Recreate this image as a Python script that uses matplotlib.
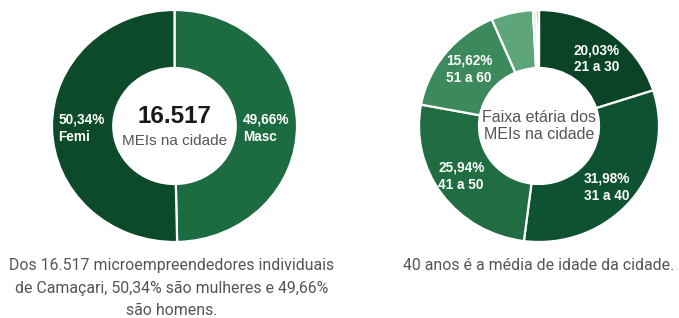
import matplotlib.pyplot as plt

# Dados
generos = ["Masc", "Femi"]
genero_pct = [49.66, 50.34]
genero_cores = ["#1d6b40", "#0c4a2a"]

faixas = ["21 a 30", "31 a 40", "41 a 50", "51 a 60", "61 a 70", "acima de 70", "até 20"]
faixa_pct = [20.03, 31.98, 25.94, 15.62, 5.63, 0.45, 0.35]
faixa_cores = ["#0a4326", "#0f5231", "#1f6d41", "#3c8a5b", "#5fa57a", "#cfe4d6", "#1b5c37"]
faixa_mostrar = [True, True, True, True, False, False, False]

total_meis = "16.517"
media_idade = 40

W, H = 679, 318
fig = plt.figure(figsize=(W / 100, H / 100), dpi=100)
plt.rcParams["font.family"] = ["Liberation Sans", "DejaVu Sans"]


def eixo_px(x0, y0, x1, y1):
    # caixa em pixels (origem no topo)
    return fig.add_axes([x0 / W, 1 - y1 / H, (x1 - x0) / W, (y1 - y0) / H])


def fmt(v):
    return f"{v:.2f}".replace(".", ",") + "%"


wp = dict(width=0.5, edgecolor="white", linewidth=1.6)

# Donut de gênero
ax1 = eixo_px(52, 10, 297, 242)
ax1.pie(genero_pct, colors=genero_cores, startangle=90, counterclock=False,
        radius=1, wedgeprops=wp)
ax1.set_aspect("auto")
ax1.set_xlim(-1, 1)
ax1.set_ylim(-1, 1)
pos_gen = {"Femi": (-0.95, -0.02), "Masc": (0.56, -0.02)}
for nome, v in zip(generos, genero_pct):
    x, y = pos_gen[nome]
    ax1.text(x, y, f"{fmt(v)}\n{nome}", color="white", fontsize=9.8,
             fontweight="bold", ha="left", va="center", linespacing=1.3)
ax1.text(0, 0.08, total_meis, fontsize=17.5, fontweight="bold", color="#1a1a1a",
         ha="center", va="center")
ax1.text(0, -0.13, "MEIs na cidade", fontsize=11, color="#555555",
         ha="center", va="center")

# Donut de faixa etária
ax2 = eixo_px(419, 10, 659, 242)
ax2.pie(faixa_pct, colors=faixa_cores, startangle=90, counterclock=False,
        radius=1, wedgeprops=wp)
ax2.set_aspect("auto")
ax2.set_xlim(-1, 1)
ax2.set_ylim(-1, 1)
pos_faixa = [(0.29, 0.58), (0.375, -0.53), (-0.84, -0.43), (-0.775, 0.49)]
k = 0
for nome, v, m in zip(faixas, faixa_pct, faixa_mostrar):
    if not m:
        continue
    x, y = pos_faixa[k]
    k += 1
    ax2.text(x, y, f"{fmt(v)}\n{nome}", color="white", fontsize=9.8,
             fontweight="bold", ha="left", va="center", linespacing=1.3)
ax2.text(0, 0, "Faixa etária dos\nMEIs na cidade", fontsize=11.5, color="#555555",
         ha="center", va="center", linespacing=1.2)

# Legendas abaixo
fig.text(172 / W, 1 - 258 / H,
         f"Dos {total_meis} microempreendedores individuais\n"
         f"de Camaçari, {fmt(genero_pct[1])} são mulheres e {fmt(genero_pct[0])}\n"
         "são homens.",
         fontsize=11.4, color="#555555", ha="center", va="top",
         family=["Roboto", "DejaVu Sans"], linespacing=1.62)
fig.text(539 / W, 1 - 258 / H, f"{media_idade} anos é a média de idade da cidade.",
         fontsize=11.4, color="#555555", ha="center", va="top",
         family=["Roboto", "DejaVu Sans"])

fig.savefig("out.png", dpi=100, facecolor="white")
